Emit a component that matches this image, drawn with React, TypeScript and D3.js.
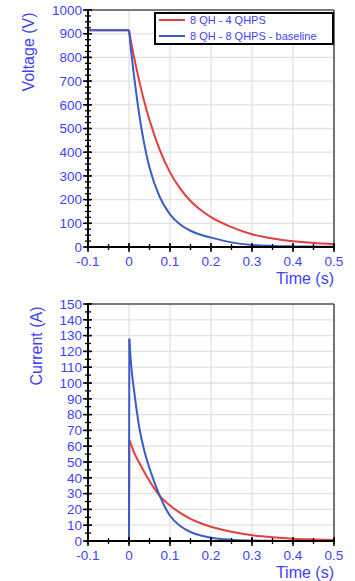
import React from "react";
import * as d3 from "d3";

const timeS = [0, 0.005, 0.0125, 0.025, 0.0375, 0.05, 0.075, 0.1, 0.125, 0.15, 0.175, 0.2, 0.25, 0.3, 0.35, 0.4, 0.45, 0.5];
const voltage4QHPS = [915, 866, 800, 700, 612, 536, 410, 315, 246, 194, 156, 126, 84, 54, 36, 24, 17, 12];
const voltageBaseline = [915, 830, 720, 558, 432, 335, 211, 138, 95, 68.5, 51.4, 39.6, 19.5, 8.8, 4.6, 2.6, 1.6, 1];
const current4QHPS = [64, 61, 56, 49.5, 43.5, 38, 28.6, 22.5, 17.8, 14, 11.2, 9, 5.8, 3.7, 2.4, 1.5, 1, 0.6];
const currentBaseline = [128, 112, 95, 72, 57, 46, 28.5, 16, 9.5, 5.7, 3.5, 2.1, 0.8, 0.3, 0.1, 0.05, 0, 0];
const preTime = [-0.1, 0];
const preVoltage = [915, 915];
const preCurrent = [0, 0];

const xTicks = ["-0.1", "0", "0.1", "0.2", "0.3", "0.4", "0.5"];
const voltageTicks = ["0", "100", "200", "300", "400", "500", "600", "700", "800", "900", "1000"];
const currentTicks = ["0", "10", "20", "30", "40", "50", "60", "70", "80", "90", "100", "110", "120", "130", "140", "150"];
const seriesNames = ["8 QH - 4 QHPS", "8 QH - 8 QHPS - baseline"];
const seriesColors = ["#e43d3d", "#3a5cc8"];

const TICK_COLOR = "#3f3fff";
const FONT = "Liberation Sans, Arial, sans-serif";

type PanelProps = {
  top: number;
  bottom: number;
  yMax: number;
  yTicks: string[];
  minorStep: number;
  yTitle: string;
  yTitleX: number;
  yTitleY: number;
  series: { pre: number[]; vals: number[]; start?: number }[];
  legend?: boolean;
};

function Panel({ top, bottom, yMax, yTicks, minorStep, yTitle, yTitleX, yTitleY, series, legend }: PanelProps) {
  const x = d3.scaleLinear().domain([-0.1, 0.5]).range([88, 334]);
  const y = d3.scaleLinear().domain([0, yMax]).range([bottom, top]);
  const xMin = x(-0.1);
  const xMax = x(0.5);
  const lineLin = d3.line<[number, number]>().x((d) => x(d[0])).y((d) => y(d[1]));
  const lineSmooth = d3
    .line<[number, number]>()
    .x((d) => x(d[0]))
    .y((d) => y(d[1]))
    .curve(d3.curveMonotoneX);

  const minorY = d3.range(0, yMax + 0.001, minorStep);
  const minorX = d3.range(-0.1, 0.5001, 0.05);

  return (
    <g>
      {xTicks.map((t) => (
        <line key={"gx" + t} x1={x(+t)} x2={x(+t)} y1={top} y2={bottom} stroke="#e2e2e2" strokeWidth={1.3} />
      ))}
      {yTicks.map((t) => (
        <line key={"gy" + t} x1={xMin} x2={xMax} y1={y(+t)} y2={y(+t)} stroke="#e2e2e2" strokeWidth={1.3} />
      ))}
      <line x1={xMin} x2={xMax} y1={top} y2={top} stroke="#555" strokeWidth={1.6} />
      <line x1={xMax} x2={xMax} y1={top} y2={bottom} stroke="#555" strokeWidth={1.6} />

      {series.map((s, i) => {
        const prePts: [number, number][] = preTime.map((t, k) => [t, s.pre[k]]);
        const decay: [number, number][] = timeS.map((t, k) => [t === 0 ? (s.start ?? 0) : t, s.vals[k]]);
        const stepPts: [number, number][] = [...prePts, decay[0]];
        return (
          <g key={"s" + i}>
            <path d={lineLin(stepPts) || ""} fill="none" stroke={seriesColors[i]} strokeWidth={2} />
            <path d={lineSmooth(decay) || ""} fill="none" stroke={seriesColors[i]} strokeWidth={2} />
          </g>
        );
      })}

      <line x1={xMin} x2={xMin} y1={top} y2={bottom} stroke="#000" strokeWidth={2} />
      <line x1={xMin} x2={xMax} y1={bottom} y2={bottom} stroke="#000" strokeWidth={2} />
      {minorY.map((v) => (
        <line key={"my" + v} x1={xMin - 3} x2={xMin + 3} y1={y(v)} y2={y(v)} stroke="#000" strokeWidth={1.3} />
      ))}
      {yTicks.map((t) => (
        <line key={"ty" + t} x1={xMin - 5} x2={xMin + 4} y1={y(+t)} y2={y(+t)} stroke="#000" strokeWidth={1.5} />
      ))}
      {minorX.map((v) => (
        <line key={"mx" + v} x1={x(v)} x2={x(v)} y1={bottom - 3} y2={bottom + 3} stroke="#000" strokeWidth={1.3} />
      ))}
      {xTicks.map((t) => (
        <line key={"tx" + t} x1={x(+t)} x2={x(+t)} y1={bottom - 4} y2={bottom + 5} stroke="#000" strokeWidth={1.5} />
      ))}

      {yTicks.map((t) => (
        <text key={"ly" + t} x={82} y={y(+t)} dy="0.35em" textAnchor="end" fontSize={13.5} fill={TICK_COLOR} fontFamily={FONT}>
          {t}
        </text>
      ))}
      {xTicks.map((t) => (
        <text key={"lx" + t} x={x(+t)} y={bottom + 14} dy="0.35em" textAnchor="middle" fontSize={13.5} fill={TICK_COLOR} fontFamily={FONT}>
          {t}
        </text>
      ))}
      <text x={xMax} y={bottom + 31} dy="0.35em" textAnchor="end" fontSize={16} fill={TICK_COLOR} fontFamily={FONT}>
        Time (s)
      </text>
      <text
        transform={`translate(${yTitleX},${yTitleY}) rotate(-90)`}
        dy="0.35em"
        textAnchor="middle"
        fontSize={16}
        fill={TICK_COLOR}
        fontFamily={FONT}
      >
        {yTitle}
      </text>

      {legend && (
        <g>
          <rect x={155} y={13} width={178} height={31} fill="#fff" stroke="#000" strokeWidth={2} />
          {seriesNames.map((n, i) => (
            <g key={n}>
              <line x1={159} x2={185} y1={20 + i * 16} y2={20 + i * 16} stroke={seriesColors[i]} strokeWidth={2} />
              <text x={190} y={20 + i * 16} dy="0.35em" fontSize={11} fill={TICK_COLOR} fontFamily={FONT}>
                {n}
              </text>
            </g>
          ))}
        </g>
      )}
    </g>
  );
}

export default function App() {
  return (
    <svg width={355} height={581} style={{ position: "absolute", left: 0, top: 0, background: "#fff" }}>
      <rect width={355} height={581} fill="#fff" />
      <Panel
        top={10}
        bottom={247}
        yMax={1000}
        yTicks={voltageTicks}
        minorStep={25}
        yTitle="Voltage (V)"
        yTitleX={28}
        yTitleY={52}
        series={[
          { pre: preVoltage, vals: voltage4QHPS },
          { pre: preVoltage, vals: voltageBaseline },
        ]}
        legend
      />
      <Panel
        top={304}
        bottom={541}
        yMax={150}
        yTicks={currentTicks}
        minorStep={5}
        yTitle="Current (A)"
        yTitleX={36}
        yTitleY={346}
        series={[
          { pre: preCurrent, vals: current4QHPS, start: 0.0008 },
          { pre: preCurrent, vals: currentBaseline, start: 0.0008 },
        ]}
      />
    </svg>
  );
}
